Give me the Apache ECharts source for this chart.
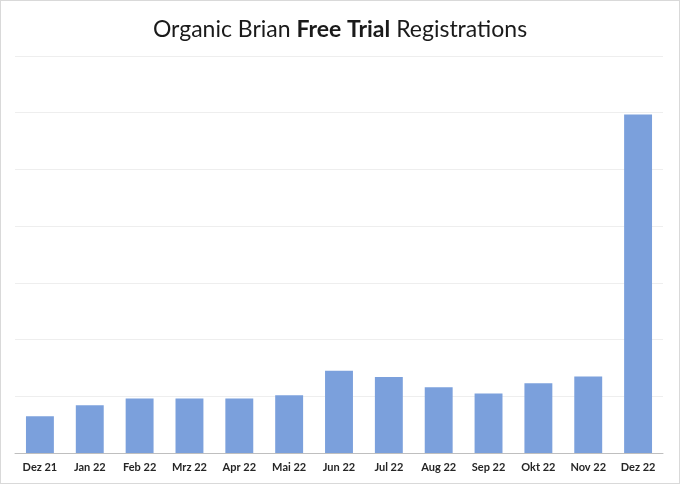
<!DOCTYPE html>
<html lang="en">

<head>
    <meta charset="UTF-8">
    <title>Organic Brian Free Trial Registrations</title>
    <script src="https://cdn.jsdelivr.net/npm/echarts@6/dist/echarts.min.js"></script>
    <style>
        * {
            margin: 0;
            padding: 0;
        }

        body {
            background: #fff;
        }

        #main {
            width: 678px;
            height: 482px;
            border: 1px solid #d9d9d9;
        }
    </style>
</head>

<body>
    <div id="main"></div>
    <script>
        // months shown on the x axis
        let months = ['Dez 21', 'Jan 22', 'Feb 22', 'Mrz 22', 'Apr 22', 'Mai 22', 'Jun 22',
            'Jul 22', 'Aug 22', 'Sep 22', 'Okt 22', 'Nov 22', 'Dez 22'];
        // registrations (axis has no labels, gridline step = 10)
        let registrations = [6.5, 8.4, 9.6, 9.6, 9.6, 10.2, 14.5, 13.4, 11.6, 10.5, 12.3, 13.5, 59.7];

        let myChart = echarts.init(document.getElementById('main'));

        let option = {
            backgroundColor: '#fff',
            animation: false,
            title: {
                left: 'center',
                top: 12,
                text: '{n|Organic Brian }{b|Free Trial}{n| Registrations}',
                textStyle: {
                    fontWeight: 'normal',
                    rich: {
                        n: { fontFamily: 'Lato', fontSize: 23, fontWeight: 'normal', color: '#1a1a1a' },
                        b: { fontFamily: 'Lato', fontSize: 23, fontWeight: 'bold', color: '#1a1a1a' }
                    }
                }
            },
            grid: {
                left: 14,
                right: 16,
                top: 55,
                bottom: 30
            },
            xAxis: {
                type: 'category',
                data: months,
                axisTick: { show: false },
                axisLine: { lineStyle: { color: '#bfbfbf', width: 1 } },
                axisLabel: {
                    fontFamily: 'Lato',
                    fontSize: 11,
                    fontWeight: 'bold',
                    color: '#262626',
                    margin: 9
                }
            },
            yAxis: {
                type: 'value',
                min: 0,
                max: 70,
                interval: 10,
                axisLabel: { show: false },
                axisLine: { show: false },
                axisTick: { show: false },
                splitLine: { lineStyle: { color: '#eeeeee', width: 1 } }
            },
            series: [{
                type: 'bar',
                data: registrations,
                barWidth: '56%',
                itemStyle: { color: '#7ba0dc' }
            }]
        };

        myChart.setOption(option);
    </script>
</body>

</html>
